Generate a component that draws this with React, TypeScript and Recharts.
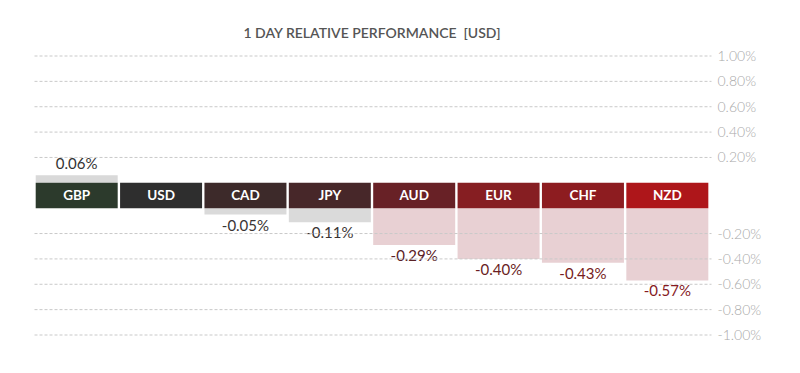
import React from 'react'
import { BarChart, Bar, XAxis, YAxis, LabelList, Cell } from 'recharts'

// 1 day relative performance vs USD
const categories = ['GBP', 'USD', 'CAD', 'JPY', 'AUD', 'EUR', 'CHF', 'NZD']
const changes = [0.06, 0, -0.05, -0.11, -0.29, -0.4, -0.43, -0.57]
const bandColors = ['#2c3a2c', '#2e2e2e', '#3d2a2a', '#472729', '#682126', '#861e22', '#8d1c20', '#ae161a']
const barColors = ['#d9d9d9', '#d9d9d9', '#dadada', '#dadada', '#e8d0d3', '#e8d0d3', '#e8d0d3', '#e8d0d3']
const labelColors = ['#333333', '#333333', '#3a3434', '#3a3434', '#5a2226', '#6a1e23', '#761c21', '#861a1f']
const tickValues = [1, 0.8, 0.6, 0.4, 0.2, -0.2, -0.4, -0.6, -0.8, -1]
const tickLabels = ['1.00%', '0.80%', '0.60%', '0.40%', '0.20%', '-0.20%', '-0.40%', '-0.60%', '-0.80%', '-1.00%']

// the label band sits between the positive and negative halves of the axis
const BAND = 0.1
const shift = (v: number) => (v >= 0 ? v + BAND : v - BAND)

const data = categories.map((name, i) => ({
  name,
  band: [-BAND, BAND],
  val: changes[i] >= 0 ? [BAND, BAND + changes[i]] : [-BAND, -BAND + changes[i]],
}))

const W = 792
const H = 365
const MARGIN = { top: 48, right: 0.5, bottom: 38, left: 26.5 }
const AXIS_W = 90
const PLOT_LEFT = MARGIN.left
const FONT = 'Lato, "Open Sans", sans-serif'

function GridTick(props: any) {
  const { x, y, payload } = props
  const idx = tickValues.map(shift).findIndex((t) => Math.abs(t - payload.value) < 1e-6)
  return (
    <g>
      <line x1={PLOT_LEFT} x2={x + 2} y1={y} y2={y} stroke="#c9c9c9" strokeDasharray="3 2" strokeWidth={1} />
      <text x={x + 8} y={y + 5} fill="#a9a9a9" fontSize={14} fontFamily={FONT} fontWeight={300}>
        {idx >= 0 ? tickLabels[idx] : ''}
      </text>
    </g>
  )
}

function ValueLabel(props: any) {
  const { x, y, width, height, value } = props
  const i = categories.indexOf(value)
  const v = changes[i]
  if (!v) return null
  const top = Math.min(y, y + height)
  const bottom = Math.max(y, y + height)
  const ty = v > 0 ? top - 6 : bottom + 16
  return (
    <text x={x + width / 2} y={ty} textAnchor="middle" fill={labelColors[i]} fontSize={15} fontFamily={FONT}>
      {`${v.toFixed(2)}%`}
    </text>
  )
}

export default function App() {
  return (
    <div style={{ position: 'relative', width: W, height: H, background: '#fff' }}>
      <div
        style={{
          position: 'absolute',
          top: 16,
          left: PLOT_LEFT,
          width: 675,
          textAlign: 'center',
          fontFamily: FONT,
          fontSize: 14,
          fontWeight: 600,
          color: '#555',
          whiteSpace: 'pre',
        }}
      >
        {'1 DAY RELATIVE PERFORMANCE  [USD]'}
      </div>
      <BarChart width={W} height={H} data={data} margin={MARGIN} barCategoryGap={1.2}>
        <XAxis xAxisId="band" dataKey="name" hide />
        <XAxis xAxisId="val" dataKey="name" hide />
        <Bar xAxisId="val" dataKey="val" isAnimationActive={false}>
          {data.map((d, i) => (
            <Cell key={d.name} fill={barColors[i]} />
          ))}
          <LabelList dataKey="name" content={<ValueLabel />} />
        </Bar>
        <Bar xAxisId="band" dataKey="band" isAnimationActive={false}>
          {data.map((d, i) => (
            <Cell key={d.name} fill={bandColors[i]} />
          ))}
          <LabelList
            dataKey="name"
            position="center"
            fill="#ffffff"
            fontSize={13.5}
            fontWeight={700}
            fontFamily={FONT}
          />
        </Bar>
        <YAxis
          orientation="right"
          width={AXIS_W}
          domain={[-1.1, 1.1]}
          ticks={tickValues.map(shift)}
          axisLine={false}
          tickLine={false}
          tickSize={0}
          tickMargin={0}
          interval={0}
          tick={<GridTick />}
        />
      </BarChart>
    </div>
  )
}
